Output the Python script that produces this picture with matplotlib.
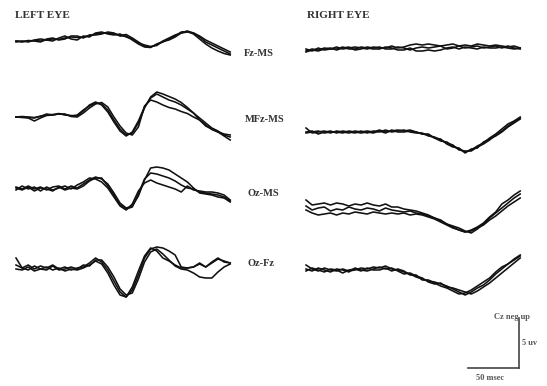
import numpy as np
import matplotlib.pyplot as plt

plt.rcParams["font.family"] = ["Liberation Serif", "DejaVu Serif"]

W, H = 547, 386

# sample times of the averaged sweeps (ms)
time_ms = np.arange(0, 211, 6)

derivations = ["Fz-MS", "MFz-MS", "Oz-MS", "Oz-Fz"]
eye_titles = ["LEFT EYE", "RIGHT EYE"]

# three repeated runs per derivation, µV (negative up)
left_fz_ms = [
    [-0.1, -0.05, -0.1, -0.15, -0.1, -0.2, -0.3, -0.25, -0.4, -0.5, -0.45, -0.5, -0.65, -0.8, -0.9, -0.9, -0.8, -0.65,
     -0.75, -0.4, 0.0, 0.4, 0.5, 0.25, 0.0, -0.3, -0.6, -1.0, -1.05, -0.8, -0.3, 0.2, 0.6, 0.9, 1.15, 1.3],
    [0.0, -0.1, 0.0, -0.2, -0.3, -0.2, -0.1, -0.4, -0.6, -0.3, -0.2, -0.6, -0.5, -0.9, -1.0, -0.8, -0.7, -0.8,
     -0.5, -0.3, 0.1, 0.3, 0.45, 0.35, -0.1, -0.4, -0.7, -0.9, -1.1, -0.9, -0.5, 0.0, 0.3, 0.6, 0.9, 1.2],
    [-0.1, 0.0, -0.15, -0.1, 0.0, -0.3, -0.4, -0.2, -0.3, -0.6, -0.6, -0.4, -0.7, -0.7, -0.8, -1.0, -0.9, -0.6,
     -0.6, -0.2, 0.2, 0.5, 0.55, 0.2, -0.05, -0.2, -0.5, -0.9, -1.0, -0.9, -0.6, -0.2, 0.1, 0.4, 0.7, 1.0],
]
left_mfz_ms = [
    [0.0, 0.0, 0.05, 0.1, -0.1, -0.2, -0.25, -0.3, -0.25, -0.1, -0.2, -0.7, -1.1, -1.4, -1.3, -0.7, 0.3, 1.2,
     1.8, 1.6, 0.6, -0.9, -2.0, -2.5, -2.3, -2.05, -1.8, -1.45, -0.95, -0.4, 0.3, 0.8, 1.25, 1.5, 1.7, 1.8],
    [0.0, 0.05, 0.1, 0.4, 0.1, -0.15, -0.2, -0.3, -0.3, -0.05, 0.0, -0.4, -0.9, -1.3, -1.45, -1.0, 0.0, 0.9,
     1.6, 1.8, 1.0, -1.1, -1.7, -1.5, -1.2, -0.95, -0.8, -0.55, -0.35, 0.0, 0.3, 0.9, 1.2, 1.5, 1.9, 2.3],
    [0.0, -0.05, 0.0, 0.05, -0.05, -0.3, -0.2, -0.35, -0.2, -0.15, -0.1, -0.6, -1.2, -1.5, -1.2, -0.5, 0.5, 1.4,
     1.9, 1.5, 0.4, -1.0, -1.9, -2.3, -2.0, -1.7, -1.5, -1.2, -0.8, -0.4, 0.1, 0.6, 1.1, 1.4, 1.8, 2.0],
]
left_oz_ms = [
    [-0.1, 0.1, -0.2, 0.1, -0.1, 0.2, -0.1, -0.2, 0.1, -0.2, 0.0, -0.4, -0.8, -1.1, -0.9, -0.4, 0.5, 1.5,
     2.0, 1.8, 0.8, -0.8, -2.0, -2.1, -2.0, -1.8, -1.4, -1.0, -0.6, 0.0, 0.5, 0.6, 0.7, 0.9, 1.0, 1.4],
    [0.2, -0.2, 0.1, -0.1, 0.3, -0.1, 0.2, 0.0, -0.2, 0.1, -0.3, -0.6, -1.0, -0.9, -0.6, 0.0, 0.9, 1.8,
     2.2, 1.6, 0.3, -0.5, -0.8, -0.5, -0.3, -0.1, 0.1, 0.4, -0.2, 0.2, 0.3, 0.4, 0.4, 0.5, 0.7, 1.2],
    [0.0, 0.2, -0.1, 0.3, 0.0, 0.1, 0.3, -0.1, 0.2, 0.0, 0.1, -0.2, -0.7, -1.0, -1.0, -0.2, 0.7, 1.7,
     2.1, 1.9, 0.6, -0.9, -1.5, -1.4, -1.2, -1.0, -0.7, -0.3, 0.0, 0.1, 0.4, 0.5, 0.6, 0.7, 0.9, 1.3],
]
left_oz_fz = [
    [-0.9, 0.1, -0.2, 0.2, -0.1, 0.1, -0.2, 0.2, 0.0, 0.3, 0.1, 0.0, -0.4, -0.9, -0.5, 0.3, 1.4, 2.5,
     3.0, 2.3, 0.8, -0.9, -1.8, -2.0, -1.9, -1.6, -1.2, 0.0, 0.1, 0.0, -0.3, 0.0, -0.4, -0.8, -0.6, -0.4],
    [0.2, 0.3, 0.0, 0.4, 0.2, 0.0, 0.3, 0.1, 0.4, 0.2, 0.3, 0.1, -0.2, -0.6, -0.3, 0.6, 1.8, 2.8,
     3.0, 2.0, 0.4, -1.1, -1.9, -1.6, -0.9, -0.6, -0.2, 0.1, 0.1, 0.0, -0.4, 0.0, -0.5, -0.9, -0.5, -0.4],
    [-0.2, 0.1, 0.3, -0.1, 0.2, 0.3, -0.1, 0.3, 0.2, 0.0, 0.2, -0.2, -0.1, -0.7, -0.7, 0.0, 1.0, 2.2,
     2.8, 2.6, 1.2, -0.5, -1.5, -1.8, -1.3, -0.7, -0.1, 0.2, 0.3, 0.6, 1.0, 1.1, 1.1, 0.5, 0.0, -0.3],
]

right_fz_ms = [
    [0.3, 0.1, 0.2, 0.0, 0.1, -0.1, 0.1, 0.0, -0.1, 0.0, 0.1, -0.1, 0.0, 0.0, -0.2, 0.0, -0.1, -0.3,
     -0.4, -0.3, -0.4, -0.3, -0.2, -0.3, -0.4, -0.2, -0.3, -0.2, -0.4, -0.3, -0.2, -0.3, -0.2, -0.1, -0.2, 0.0],
    [0.1, 0.3, 0.0, 0.2, 0.1, 0.1, -0.1, 0.1, 0.1, -0.1, 0.0, 0.1, 0.1, -0.1, 0.0, 0.2, 0.2, 0.0,
     0.3, 0.3, 0.2, 0.3, 0.2, 0.0, -0.1, 0.1, -0.1, 0.0, 0.1, -0.1, 0.0, 0.0, -0.1, 0.0, 0.1, 0.0],
    [0.4, 0.2, 0.3, 0.1, 0.0, 0.2, 0.0, -0.1, 0.2, 0.1, -0.1, 0.0, -0.1, 0.1, 0.1, -0.1, 0.0, 0.2,
     0.0, -0.1, 0.0, -0.1, -0.2, 0.1, 0.0, -0.2, 0.0, -0.1, -0.2, 0.0, -0.1, -0.2, 0.0, -0.2, 0.0, 0.1],
]
right_mfz_ms = [
    [-0.4, 0.1, 0.0, -0.1, 0.1, -0.1, 0.0, 0.1, -0.1, 0.0, -0.1, 0.0, -0.2, 0.0, -0.1, -0.2, -0.1, -0.2,
     0.0, 0.2, 0.3, 0.6, 0.9, 1.0, 1.4, 1.7, 2.0, 1.8, 1.4, 1.1, 0.6, 0.2, -0.3, -0.8, -1.1, -1.5],
    [0.0, -0.1, 0.2, 0.0, -0.1, 0.1, -0.1, 0.0, 0.1, -0.1, 0.1, -0.1, 0.0, -0.2, 0.0, -0.1, -0.2, 0.0,
     0.1, 0.1, 0.4, 0.5, 0.8, 1.1, 1.3, 1.8, 1.9, 1.9, 1.5, 1.2, 0.8, 0.3, -0.1, -0.6, -1.0, -1.4],
    [0.1, 0.0, -0.1, 0.1, 0.0, 0.0, 0.1, -0.1, 0.0, 0.1, 0.0, 0.1, -0.1, 0.1, -0.2, 0.0, 0.0, -0.1,
     0.0, 0.2, 0.2, 0.6, 0.7, 1.2, 1.5, 1.6, 2.1, 1.7, 1.6, 1.0, 0.7, 0.4, 0.0, -0.5, -0.9, -1.3],
]
right_oz_ms = [
    [-0.8, -0.3, -0.4, -0.5, -0.3, -0.5, -0.4, -0.2, -0.4, -0.3, -0.5, -0.3, -0.2, -0.4, -0.1, -0.1, 0.1, 0.2,
     0.3, 0.5, 0.7, 1.0, 1.3, 1.6, 1.9, 2.2, 2.4, 2.2, 1.9, 1.5, 0.9, 0.4, -0.4, -0.8, -1.3, -1.7],
    [0.2, 0.5, 0.7, 0.6, 0.5, 0.7, 0.5, 0.6, 0.4, 0.5, 0.6, 0.4, 0.5, 0.6, 0.5, 0.6, 0.5, 0.7,
     0.6, 0.7, 0.9, 1.1, 1.4, 1.7, 2.0, 2.2, 2.4, 2.3, 2.0, 1.7, 1.2, 0.8, 0.3, -0.2, -0.6, -1.0],
    [-0.2, 0.2, 0.0, -0.1, 0.3, 0.1, 0.2, -0.1, 0.1, 0.2, 0.0, 0.1, 0.3, 0.0, 0.2, 0.3, 0.4, 0.3,
     0.5, 0.6, 0.8, 1.0, 1.2, 1.6, 1.8, 2.0, 2.3, 2.5, 2.1, 1.6, 1.0, 0.5, 0.0, -0.5, -1.0, -1.4],
]
right_oz_fz = [
    [-0.3, 0.1, 0.3, 0.0, 0.2, 0.3, 0.1, 0.3, 0.2, 0.0, 0.1, -0.1, 0.0, -0.2, 0.1, 0.2, 0.4, 0.6,
     0.9, 1.1, 1.3, 1.4, 1.6, 1.8, 2.1, 2.4, 2.7, 2.4, 2.0, 1.7, 1.2, 0.6, 0.1, -0.4, -0.8, -1.2],
    [0.1, 0.3, 0.0, 0.2, 0.4, 0.1, 0.2, 0.4, 0.0, 0.2, 0.3, 0.1, -0.1, 0.1, 0.0, 0.3, 0.6, 0.5,
     0.8, 1.0, 1.4, 1.6, 1.5, 1.9, 2.0, 2.2, 2.4, 2.6, 2.3, 1.9, 1.5, 1.0, 0.5, 0.0, -0.5, -1.0],
    [0.3, 0.0, 0.2, 0.4, 0.1, 0.2, 0.5, 0.2, 0.1, 0.3, 0.0, 0.2, 0.2, 0.0, 0.3, 0.1, 0.3, 0.7,
     0.7, 1.2, 1.2, 1.5, 1.8, 2.0, 2.3, 2.6, 2.5, 2.2, 1.8, 1.4, 1.0, 0.4, -0.1, -0.4, -0.9, -1.3],
]

left_runs = [left_fz_ms, left_mfz_ms, left_oz_ms, left_oz_fz]
right_runs = [right_fz_ms, right_mfz_ms, right_oz_ms, right_oz_fz]

scale_ms = 50
scale_uv = 5

# layout in pixels
PX_PER_MS = 1.02
PX_PER_UV = 10.0
LEFT_X0, RIGHT_X0 = 16, 306
LEFT_BASE = [42, 117, 188, 267]
RIGHT_BASE = [48, 132, 208, 268]
INK = "#111111"

fig = plt.figure(figsize=(W / 100, H / 100), dpi=100)


def px_axes(x0, y0, w, h):
    ax = fig.add_axes([x0 / W, 1 - (y0 + h) / H, w / W, h / H])
    ax.set_axis_off()
    ax.patch.set_alpha(0)
    return ax


def px_text(x, y, s, **kw):
    fig.text(x / W, 1 - y / H, s, va="center", **kw)


def draw_panel(x0, base, runs):
    span = time_ms[-1]
    ax = px_axes(x0, base - 40, span * PX_PER_MS, 80)
    ax.set_xlim(0, span)
    ax.set_ylim(40 / PX_PER_UV, -40 / PX_PER_UV)  # negative up
    for run in runs:
        ax.plot(time_ms, run, color=INK, lw=1.15, clip_on=False,
                solid_joinstyle="round")


for base, runs in zip(LEFT_BASE, left_runs):
    draw_panel(LEFT_X0, base, runs)
for base, runs in zip(RIGHT_BASE, right_runs):
    draw_panel(RIGHT_X0, base, runs)

px_text(15, 16, eye_titles[0], fontsize=8, fontweight="bold", color="#333333")
px_text(307, 16, eye_titles[1], fontsize=8, fontweight="bold", color="#333333")

label_x = [244, 245, 247, 248]
label_y = [53, 120, 193, 263]
for x, y, name in zip(label_x, label_y, derivations):
    px_text(x, y, name, fontsize=7.5, fontweight="bold", color="#333333")

# calibration bar
bar = px_axes(468, 308, 60 * PX_PER_MS, 6.5 * PX_PER_UV)
bar.set_xlim(0, 60)
bar.set_ylim(-0.5, 6)
bar.plot([0, scale_ms], [0, 0], color="#444444", lw=1.2, clip_on=False)
bar.plot([scale_ms, scale_ms], [0, scale_uv], color="#444444", lw=1.2, clip_on=False)

px_text(512, 317, "Cz neg up", fontsize=6, fontweight="bold", color="#555555", ha="center")
px_text(522, 343, f"{scale_uv} uv", fontsize=6, fontweight="bold", color="#555555")
px_text(490, 378, f"{scale_ms} msec", fontsize=6, fontweight="bold", color="#555555", ha="center")

fig.savefig("out.png", dpi=100)
